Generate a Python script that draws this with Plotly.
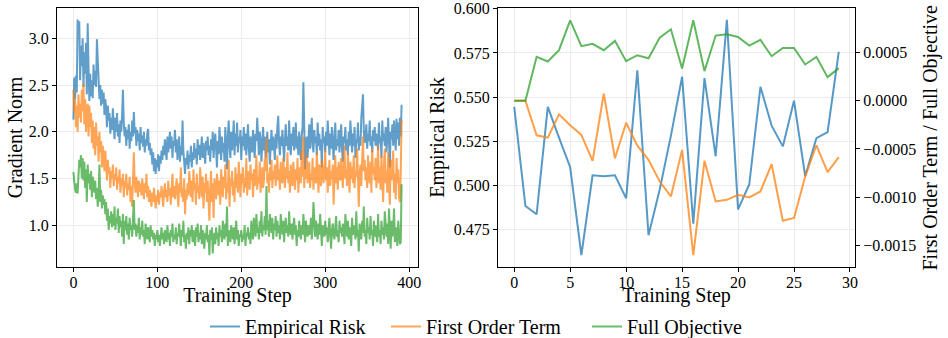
import plotly.graph_objects as go

# ---------------- Left panel data: gradient norm per training step ----------------
grad_empirical_risk = [
    2.13, 2.58, 2.35, 2.60, 2.42, 3.20, 3.05, 3.18, 2.55, 2.92, 2.70, 3.00, 2.48, 2.85, 2.62, 2.95, 2.40, 3.16, 2.70, 2.33,
    2.62, 2.38, 2.55, 2.36, 2.72, 2.50, 2.65, 2.48, 2.99, 2.70, 2.55, 2.35, 2.50, 2.28, 2.45, 2.30, 2.42, 2.18, 2.35, 2.25,
    2.05, 2.28, 2.12, 2.20, 1.98, 2.15, 2.02, 2.25, 2.08, 1.92, 2.15, 2.00, 2.20, 1.95, 2.08, 1.88, 2.12, 2.00, 2.18, 2.45,
    2.10, 1.95, 2.05, 1.85, 2.02, 1.92, 2.08, 1.82, 2.00, 1.90, 2.12, 1.95, 2.21, 1.98, 2.05, 1.85, 2.02, 1.90, 1.98, 1.80,
    2.05, 1.88, 1.96, 1.84, 2.00, 1.78, 1.92, 1.85, 1.98, 2.03, 1.80, 1.88, 1.75, 1.82, 1.65, 1.78, 1.58, 1.72, 1.55, 1.70,
    1.62, 1.76, 1.58, 1.74, 1.66, 1.80, 1.70, 1.85, 1.75, 1.92, 1.80, 1.70, 1.95, 1.78, 1.88, 2.00, 1.82, 1.95, 1.72, 1.90,
    1.85, 2.02, 1.78, 1.92, 1.70, 1.88, 1.95, 1.68, 1.85, 1.75, 2.12, 1.80, 1.62, 1.55, 1.72, 1.65, 1.80, 1.60, 1.75, 1.68,
    1.85, 1.62, 1.78, 1.70, 1.88, 1.72, 1.82, 1.65, 1.92, 1.75, 1.86, 1.70, 1.80, 1.95, 1.72, 1.88, 1.78, 1.66, 1.90, 1.80,
    1.95, 1.75, 1.85, 1.68, 1.92, 1.80, 2.00, 1.72, 1.88, 1.98, 1.82, 1.62, 1.90, 1.76, 2.05, 1.85, 1.70, 1.95, 1.78, 1.88,
    1.68, 2.05, 1.82, 1.60, 1.95, 2.12, 1.85, 1.72, 2.00, 1.80, 1.92, 2.12, 1.75, 1.98, 1.85, 2.10, 1.78, 1.95, 1.88, 2.02,
    1.70, 1.95, 1.85, 2.05, 1.80, 1.98, 1.75, 1.92, 2.08, 1.82, 1.68, 1.95, 1.88, 1.78, 2.02, 1.85, 1.72, 1.98, 1.90, 2.15,
    1.85, 1.75, 2.00, 1.92, 1.68, 1.88, 2.05, 1.80, 1.95, 1.72, 1.85, 2.00, 1.78, 1.92, 1.65, 1.88, 2.02, 1.80, 1.95, 1.85,
    1.70, 1.98, 1.82, 2.05, 2.17, 1.88, 1.75, 1.95, 1.85, 2.02, 1.78, 1.68, 1.92, 2.08, 1.85, 1.95, 1.80, 2.12, 1.88, 1.75,
    1.98, 1.85, 2.05, 1.80, 1.92, 2.10, 1.82, 1.95, 1.75, 2.00, 1.88, 1.70, 1.95, 2.05, 2.53, 2.00, 1.60, 1.85, 1.95, 1.72,
    1.90, 2.08, 1.82, 1.98, 2.15, 1.85, 1.78, 2.02, 1.88, 1.95, 1.75, 2.10, 1.85, 1.98, 1.80, 1.92, 1.62, 2.05, 1.88, 1.95,
    1.78, 2.00, 1.85, 2.12, 1.90, 1.75, 1.98, 1.82, 2.05, 1.88, 1.70, 1.95, 2.10, 1.80, 1.92, 1.85, 2.02, 1.78, 1.95, 2.08,
    1.82, 1.68, 1.95, 1.88, 2.05, 1.80, 1.92, 1.75, 2.00, 1.85, 2.12, 1.90, 1.78, 1.98, 1.85, 2.05, 1.72, 1.92, 1.88, 2.10,
    1.80, 1.95, 1.85, 2.15, 2.25, 2.40, 2.00, 1.88, 1.95, 2.08, 1.82, 1.98, 1.90, 2.12, 1.85, 1.95, 1.78, 2.02, 1.90, 2.05,
    1.85, 1.98, 1.92, 1.80, 2.10, 1.88, 1.95, 1.72, 2.12, 1.90, 1.98, 1.85, 2.05, 1.78, 1.95, 2.15, 1.88, 1.62, 2.00, 1.92,
    2.08, 1.85, 2.12, 1.95, 1.80, 2.14, 1.92, 2.10, 1.85, 2.15, 1.95, 2.29,
]

grad_first_order = [
    2.45, 2.20, 2.35, 2.05, 2.28, 2.00, 2.40, 2.15, 2.30, 2.10, 2.45, 2.22, 2.52, 2.08, 2.35, 2.00, 2.25, 2.30, 1.95, 2.28,
    2.05, 2.20, 1.88, 2.12, 1.82, 2.05, 1.75, 2.10, 1.85, 1.95, 1.68, 2.00, 1.78, 1.90, 1.62, 1.85, 1.72, 1.58, 1.80, 1.65,
    1.48, 1.70, 1.55, 1.62, 1.40, 1.58, 1.50, 1.65, 1.42, 1.55, 1.48, 1.62, 1.38, 1.52, 1.45, 1.60, 1.35, 1.50, 1.42, 1.55,
    1.30, 1.48, 1.40, 1.55, 1.32, 1.45, 1.38, 1.52, 1.25, 1.42, 1.20, 1.50, 1.78, 1.45, 1.35, 1.52, 1.40, 1.30, 1.48, 1.36,
    1.45, 1.32, 1.50, 1.38, 1.28, 1.45, 1.35, 1.55, 1.30, 1.42, 1.25, 1.38, 1.30, 1.20, 1.35, 1.25, 1.40, 1.28, 1.18, 1.32,
    1.25, 1.38, 1.22, 1.35, 1.30, 1.42, 1.28, 1.20, 1.36, 1.45, 1.30, 1.38, 1.25, 1.48, 1.32, 1.40, 1.22, 1.35, 1.55, 1.30,
    1.42, 1.28, 1.38, 1.50, 1.32, 1.20, 1.45, 1.35, 1.62, 1.30, 1.40, 1.25, 1.50, 1.12, 1.38, 1.28, 1.45, 1.32, 1.58, 1.40,
    1.30, 1.48, 1.25, 1.60, 1.38, 1.45, 1.22, 1.55, 1.35, 1.42, 1.28, 1.62, 1.40, 1.30, 1.52, 1.18, 1.45, 1.35, 1.55, 1.25,
    1.48, 1.30, 1.05, 1.40, 1.58, 1.25, 1.45, 1.08, 1.50, 1.35, 1.28, 1.55, 1.40, 1.32, 1.48, 1.22, 1.60, 1.38, 1.30, 1.52,
    1.40, 1.65, 1.28, 1.45, 1.35, 1.70, 1.20, 1.50, 1.42, 1.58, 1.32, 1.48, 1.25, 1.62, 1.40, 1.55, 1.35, 1.68, 1.42, 1.30,
    1.55, 1.45, 1.62, 1.35, 1.50, 1.40, 1.72, 1.32, 1.58, 1.45, 1.38, 1.65, 1.48, 1.55, 1.30, 1.60, 1.42, 1.50, 1.75, 1.38,
    1.52, 1.45, 1.68, 1.35, 1.55, 1.62, 1.40, 1.48, 1.72, 1.58, 1.93, 1.45, 1.55, 1.35, 1.62, 1.48, 1.70, 1.40, 1.58, 1.50,
    1.65, 1.42, 1.55, 1.75, 1.48, 1.60, 1.38, 1.68, 1.52, 1.45, 1.72, 1.55, 1.40, 1.62, 1.50, 1.78, 1.45, 1.58, 1.35, 1.65,
    1.50, 1.42, 1.68, 1.55, 1.38, 1.60, 1.48, 1.72, 1.35, 1.55, 1.62, 1.45, 1.80, 1.52, 1.95, 1.40, 1.62, 1.50, 1.75, 1.45,
    1.58, 1.68, 1.40, 1.55, 1.48, 1.72, 1.38, 1.62, 1.52, 1.45, 1.78, 1.55, 1.35, 1.65, 1.50, 1.42, 1.70, 1.55, 1.45, 1.60,
    1.80, 1.48, 1.62, 1.35, 1.55, 1.70, 1.42, 1.58, 1.50, 1.65, 1.22, 1.55, 1.75, 1.45, 1.62, 1.38, 1.68, 1.52, 1.48, 1.72,
    1.55, 1.40, 1.65, 1.85, 1.50, 1.60, 1.42, 1.78, 1.55, 1.35, 1.68, 1.50, 1.62, 1.45, 1.75, 1.40, 1.58, 1.52, 1.82, 1.30,
    1.20, 1.55, 1.65, 1.42, 1.85, 1.95, 1.58, 1.70, 1.48, 1.62, 1.40, 1.75, 1.52, 1.45, 1.68, 1.35, 1.82, 1.55, 1.62, 1.48,
    1.72, 1.40, 1.58, 1.85, 1.45, 1.62, 1.38, 1.75, 1.50, 1.25, 1.65, 1.82, 1.45, 1.58, 1.35, 1.78, 1.52, 1.22, 1.70, 1.48,
    1.62, 1.80, 1.35, 1.55, 1.28, 1.72, 1.45, 1.60, 1.30, 1.25, 1.55, 2.13,
]

grad_full_objective = [
    1.57, 1.42, 1.38, 1.35, 1.45, 1.34, 1.55, 1.70, 1.62, 1.75, 1.50, 1.72, 1.48, 1.68, 1.40, 1.60, 1.25, 1.65, 1.45, 1.55,
    1.38, 1.58, 1.30, 1.52, 1.42, 1.35, 1.48, 1.28, 1.40, 1.20, 1.35, 1.65, 1.25, 1.38, 1.18, 1.32, 1.22, 1.28, 1.12, 1.25,
    1.05, 1.18, 0.95, 1.10, 1.02, 1.15, 0.98, 1.12, 1.00, 1.20, 0.95, 1.08, 1.02, 1.18, 0.92, 1.10, 0.98, 1.05, 0.88, 1.12,
    0.80, 1.05, 0.95, 1.10, 0.90, 1.02, 0.85, 1.08, 0.95, 1.00, 0.88, 1.05, 1.27, 0.95, 1.02, 0.88, 1.00, 0.92, 1.08, 0.85,
    0.98, 0.90, 1.05, 0.88, 0.95, 0.80, 1.02, 0.92, 0.85, 0.98, 0.90, 0.82, 1.00, 0.88, 0.95, 0.85, 0.92, 0.78, 0.90, 0.85,
    0.95, 0.82, 0.90, 0.78, 0.88, 0.98, 0.85, 0.92, 0.80, 0.95, 0.88, 0.82, 1.00, 0.85, 0.92, 0.78, 0.95, 0.88, 1.02, 0.82,
    0.90, 0.85, 0.98, 0.80, 0.92, 0.88, 1.02, 0.85, 0.78, 0.95, 0.88, 1.05, 0.82, 0.90, 0.75, 0.92, 0.85, 0.98, 0.80, 0.95,
    0.88, 1.00, 0.82, 0.95, 0.85, 0.78, 0.98, 0.88, 1.02, 0.82, 0.92, 0.85, 1.00, 0.80, 0.95, 0.88, 0.75, 0.92, 0.85, 1.00,
    0.82, 0.90, 0.68, 0.95, 0.85, 0.98, 0.70, 0.88, 0.92, 0.80, 0.98, 0.85, 0.92, 0.78, 1.00, 0.88, 0.95, 0.82, 1.05, 0.90,
    0.85, 1.02, 0.88, 1.20, 0.78, 0.95, 0.88, 0.82, 1.00, 0.90, 0.85, 0.98, 0.80, 0.92, 1.05, 0.85, 0.95, 0.78, 0.90, 0.88,
    0.95, 0.82, 0.90, 0.85, 1.00, 0.78, 0.92, 0.88, 0.98, 0.85, 0.92, 0.80, 1.05, 0.90, 0.85, 1.08, 0.95, 0.88, 1.12, 0.92,
    0.98, 0.85, 1.05, 0.92, 1.15, 0.88, 1.00, 0.95, 1.10, 0.90, 1.42, 0.95, 1.05, 0.88, 1.12, 0.98, 0.92, 1.08, 0.85, 1.02,
    0.95, 1.10, 0.88, 1.05, 0.92, 1.00, 0.85, 1.12, 0.95, 0.90, 1.05, 0.82, 0.98, 1.08, 0.92, 1.00, 0.88, 1.15, 0.95, 0.90,
    1.02, 0.85, 0.98, 1.08, 0.90, 1.00, 0.78, 0.95, 0.88, 1.05, 0.92, 0.85, 1.00, 0.90, 1.12, 0.95, 0.82, 1.05, 0.92, 0.88,
    1.00, 0.90, 0.95, 1.08, 0.85, 0.98, 1.25, 0.92, 0.88, 1.05, 0.95, 0.85, 1.02, 0.90, 1.12, 0.95, 0.78, 1.00, 0.92, 0.88,
    1.05, 0.90, 0.98, 0.82, 0.95, 1.08, 0.88, 0.75, 0.95, 1.02, 0.90, 0.85, 0.98, 1.10, 0.88, 0.95, 0.82, 1.05, 0.92, 0.98,
    0.88, 1.02, 0.92, 0.80, 1.12, 0.95, 0.88, 1.05, 0.85, 0.98, 0.92, 0.78, 1.08, 0.90, 0.95, 1.00, 0.85, 1.15, 0.88, 0.95,
    0.72, 1.02, 0.90, 0.85, 1.05, 0.92, 1.20, 0.88, 0.95, 0.80, 1.08, 0.92, 0.98, 0.85, 1.10, 0.90, 0.95, 0.78, 1.05, 0.88,
    1.00, 0.92, 0.82, 1.12, 0.88, 0.95, 0.80, 1.05, 0.90, 0.98, 0.85, 1.15, 0.92, 0.88, 1.02, 0.80, 1.18, 0.90, 0.75, 1.05,
    0.88, 0.95, 1.18, 0.82, 0.98, 0.90, 0.78, 1.05, 0.85, 0.80, 0.82, 1.44,
]

grad_steps = list(range(len(grad_empirical_risk)))

# ---------------- Right panel data: objective values per training step ----------------
obj_steps = list(range(30))
empirical_risk = [
    0.5444, 0.4882, 0.4835, 0.5444, 0.5270, 0.5102, 0.4603, 0.5056, 0.5051, 0.5056,
    0.4925, 0.5652, 0.4716, 0.4976, 0.5280, 0.5615, 0.4782, 0.5607, 0.5164, 0.5938,
    0.4863, 0.5004, 0.5558, 0.5338, 0.5220, 0.5479, 0.5051, 0.5267, 0.5301, 0.5756,
]
first_order_term = [
    0.0, 0.0, -0.000359, -0.000383, -0.000141, -0.000255, -0.000355, -0.000624, 0.0000724, -0.000597,
    -0.000228, -0.000466, -0.000614, -0.000838, -0.000993, -0.000510, -0.001603, -0.000624, -0.001045, -0.001028,
    -0.000976, -0.001003, -0.000941, -0.000659, -0.001245, -0.001217, -0.000786, -0.000462, -0.000741, -0.000586,
]
full_objective = [
    0.0, 0.0, 0.000455, 0.000407, 0.000524, 0.000834, 0.000566, 0.000590, 0.000524, 0.000621,
    0.000410, 0.000472, 0.000441, 0.000655, 0.000741, 0.000334, 0.000834, 0.000307, 0.000676, 0.000690,
    0.000662, 0.000572, 0.000631, 0.000462, 0.000548, 0.000548, 0.000376, 0.000455, 0.000245, 0.000338,
]

# ticks
left_x_ticks = [0, 100, 200, 300, 400]
left_y_ticks = [1.0, 1.5, 2.0, 2.5, 3.0]
right_x_ticks = [0, 5, 10, 15, 20, 25, 30]
risk_ticks = [0.475, 0.500, 0.525, 0.550, 0.575, 0.600]
term_ticks = [-0.0015, -0.0010, -0.0005, 0.0, 0.0005]

series_names = ["Empirical Risk", "First Order Term", "Full Objective"]
colors = ["#1f77b4", "#ff7f0e", "#2ca02c"]
legend_ids = ["legend", "legend2", "legend3"]

FONT = "Liberation Serif, Times New Roman, DejaVu Serif, serif"
W, H = 948, 338
ML, MR, MT, MB = 57, 93, 8, 71
PW = W - ML - MR
PH = H - MT - MB


def px_x(p):
    """pixel x -> paper fraction"""
    return (p - ML) / PW


fig = go.Figure()

left_series = [grad_empirical_risk, grad_first_order, grad_full_objective]
for name, col, ys, lg in zip(series_names, colors, left_series, legend_ids):
    fig.add_trace(go.Scatter(
        x=grad_steps, y=ys, mode="lines", name=name,
        line=dict(color=col, width=2), opacity=0.7,
        xaxis="x", yaxis="y", showlegend=True, legend=lg,
    ))

fig.add_trace(go.Scatter(
    x=obj_steps, y=empirical_risk, mode="lines", name=series_names[0],
    line=dict(color=colors[0], width=2), opacity=0.75,
    xaxis="x2", yaxis="y2", showlegend=False,
))
fig.add_trace(go.Scatter(
    x=obj_steps, y=first_order_term, mode="lines", name=series_names[1],
    line=dict(color=colors[1], width=2), opacity=0.75,
    xaxis="x2", yaxis="y3", showlegend=False,
))
fig.add_trace(go.Scatter(
    x=obj_steps, y=full_objective, mode="lines", name=series_names[2],
    line=dict(color=colors[2], width=2), opacity=0.75,
    xaxis="x2", yaxis="y3", showlegend=False,
))

grid = "#ebebeb"
tickfont = dict(family=FONT, size=16, color="black")
titlefont = dict(family=FONT, size=20, color="black")

common_axis = dict(
    showline=True, linecolor="black", linewidth=1.2,
    ticks="outside", ticklen=4, tickwidth=1, tickcolor="black",
    tickfont=tickfont, showgrid=True, gridcolor=grid, gridwidth=1,
    zeroline=False, ticklabeloverflow="allow",
)

left_dom = [0, px_x(418)]
right_dom = [px_x(498), 1.0]

legend_common = dict(
    orientation="h", xanchor="left", yanchor="top",
    xref="container", yref="container", y=1 - 307 / H,
    font=dict(family=FONT, size=20, color="black"),
    bgcolor="rgba(0,0,0,0)", itemwidth=30,
)
legend_x_px = [205, 386, 587]

fig.update_layout(
    width=W, height=H,
    margin=dict(l=ML, r=MR, t=MT, b=MB, autoexpand=False),
    paper_bgcolor="white", plot_bgcolor="white",
    font=dict(family=FONT, color="black"),
    xaxis=dict(common_axis, domain=left_dom, range=[-19.55, 410.55], tickvals=left_x_ticks,
               mirror=True, anchor="y", ticklabelstandoff=-3, automargin=True,
               title=dict(text="Training Step", font=titlefont, standoff=6)),
    yaxis=dict(common_axis, domain=[0, 1], range=[0.555, 3.323], tickvals=left_y_ticks,
               tickformat=".1f", mirror=True, anchor="x",
               title=dict(text="Gradient Norm", font=titlefont, standoff=0)),
    xaxis2=dict(common_axis, domain=right_dom, range=[-1.45, 30.45], tickvals=right_x_ticks,
                mirror=True, anchor="y2", ticklabelstandoff=-3, automargin=True,
                title=dict(text="Training Step", font=titlefont, standoff=6)),
    yaxis2=dict(common_axis, domain=[0, 1], range=[0.4536, 0.6005], tickvals=risk_ticks,
                tickformat=".3f", anchor="x2",
                title=dict(text="Empirical Risk", font=titlefont, standoff=3)),
    yaxis3=dict(common_axis, overlaying="y2", side="right", anchor="x2",
                range=[-0.001725, 0.000962], tickvals=term_ticks, tickformat=".4f",
                showgrid=False),
    legend=dict(legend_common, x=legend_x_px[0] / W),
    legend2=dict(legend_common, x=legend_x_px[1] / W),
    legend3=dict(legend_common, x=legend_x_px[2] / W),
    annotations=[dict(
        text="First Order Term / Full Objective", textangle=-90,
        xref="paper", yref="paper", x=px_x(930), y=0.5,
        xanchor="center", yanchor="middle", showarrow=False,
        font=titlefont,
    )],
)

# remove the browser's default 8px body margin so the figure fills the window
fig.write_html(
    "out.html",
    config={"displayModeBar": False},
    post_script="document.body.style.margin='0';",
)
